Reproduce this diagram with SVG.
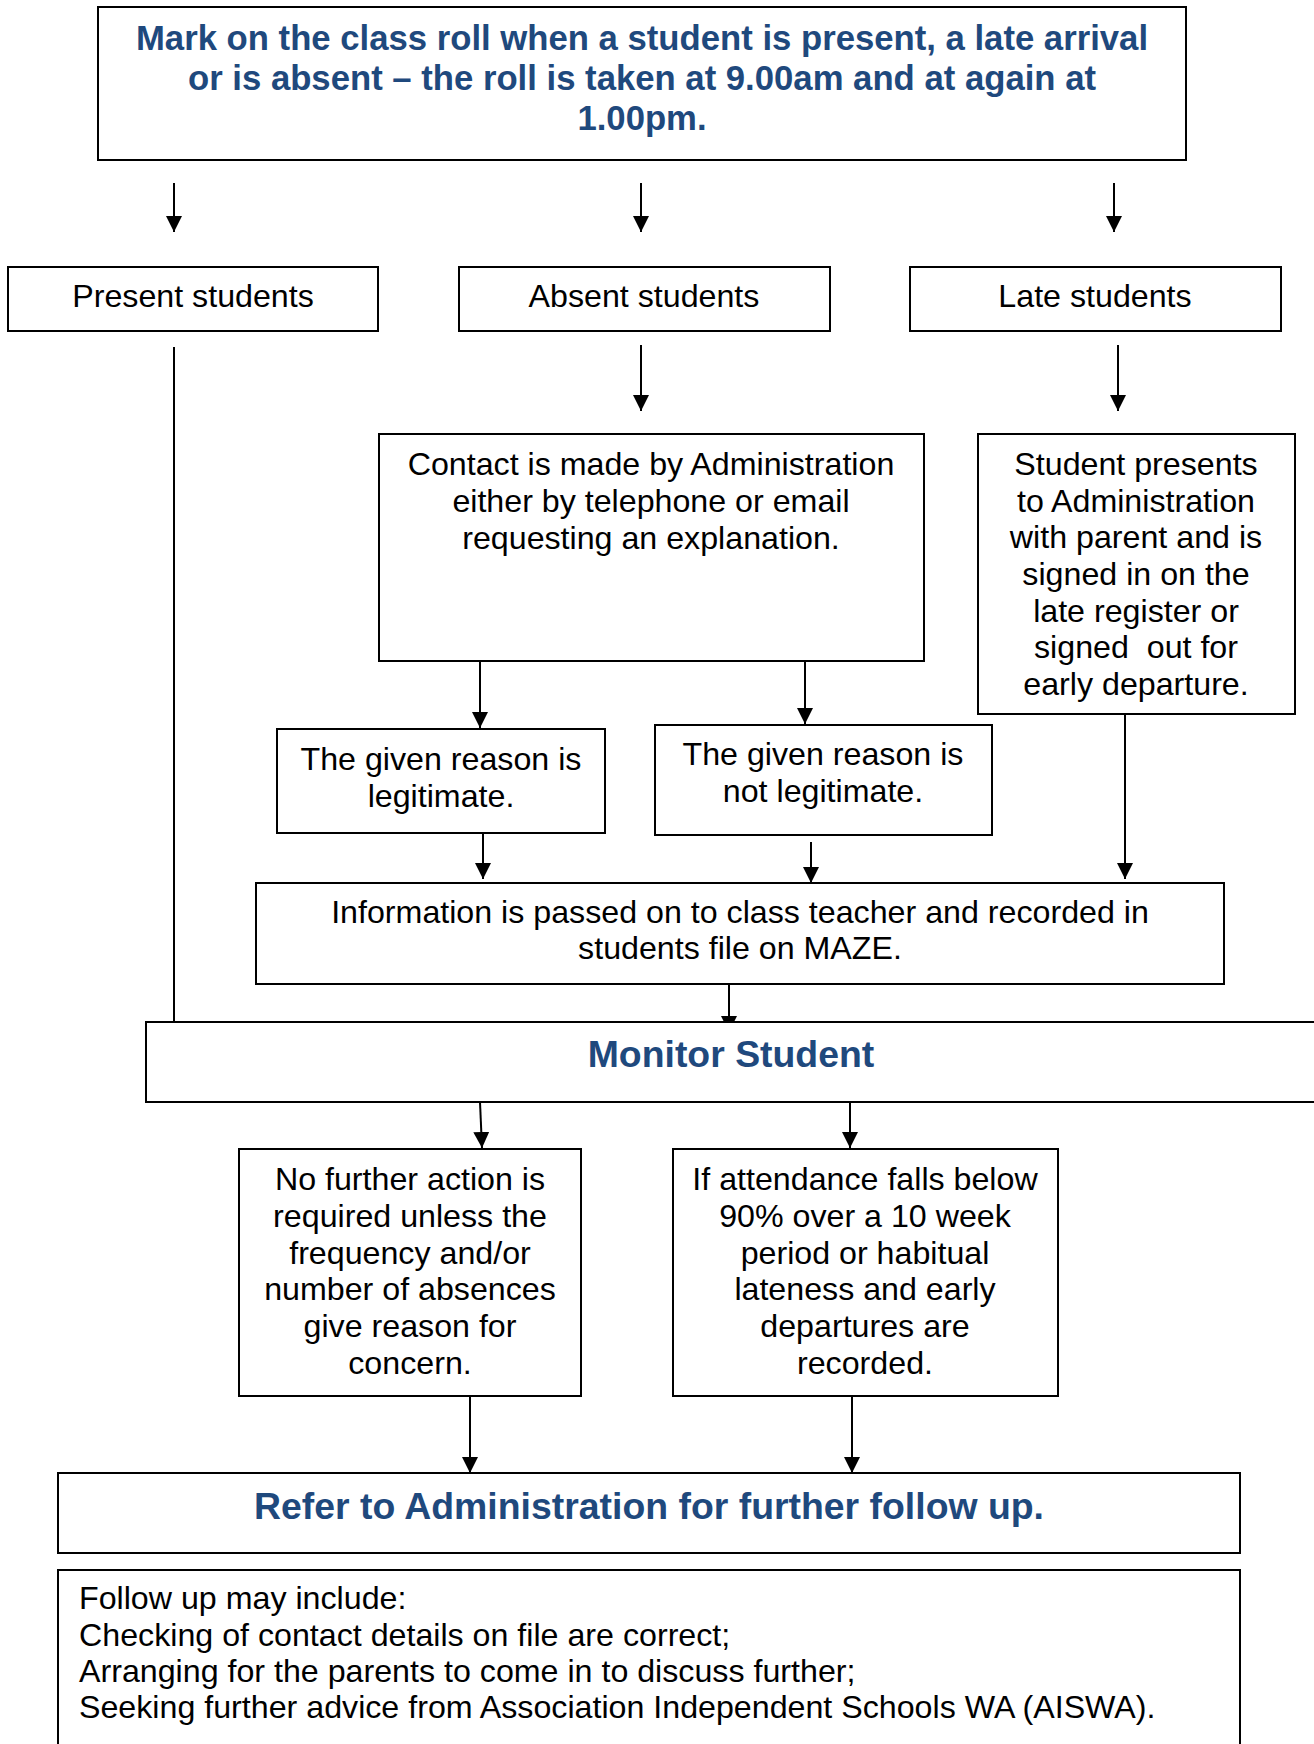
<svg xmlns="http://www.w3.org/2000/svg" width="1314" height="1744" viewBox="0 0 1314 1744">
<style>
.box{fill:#fff;stroke:#000;stroke-width:2}
.t{font-family:"Liberation Sans",Arial,sans-serif;font-size:32.2px;fill:#000;text-anchor:middle}
.tl{font-family:"Liberation Sans",Arial,sans-serif;font-size:32.2px;fill:#000}
.h{font-family:"Liberation Sans",Arial,sans-serif;font-weight:bold;fill:#1F497D;text-anchor:middle}
.c{stroke:#000;stroke-width:2;fill:none}
</style>
<defs>
<marker id="a" markerUnits="userSpaceOnUse" markerWidth="16" markerHeight="16" refX="16" refY="8" orient="auto" viewBox="0 0 16 16">
<path d="M0,0 L16,8 L0,16 Z" fill="#000"/>
</marker>
</defs>

<g id="connectors">
<line class="c" x1="174" y1="183" x2="174" y2="232" marker-end="url(#a)"/>
<line class="c" x1="641" y1="183" x2="641" y2="232" marker-end="url(#a)"/>
<line class="c" x1="1114" y1="183" x2="1114" y2="232" marker-end="url(#a)"/>
<line class="c" x1="174" y1="347" x2="174" y2="1022"/>
<line class="c" x1="641" y1="345" x2="641" y2="411" marker-end="url(#a)"/>
<line class="c" x1="1118" y1="345" x2="1118" y2="411" marker-end="url(#a)"/>
<line class="c" x1="480" y1="661" x2="480" y2="728" marker-end="url(#a)"/>
<line class="c" x1="805" y1="661" x2="805" y2="724" marker-end="url(#a)"/>
<line class="c" x1="1125" y1="714" x2="1125" y2="879" marker-end="url(#a)"/>
<line class="c" x1="483" y1="833" x2="483" y2="879" marker-end="url(#a)"/>
<line class="c" x1="811" y1="842" x2="811" y2="883" marker-end="url(#a)"/>
<line class="c" x1="729" y1="984" x2="729" y2="1032" marker-end="url(#a)"/>
<line class="c" x1="480" y1="1102" x2="482" y2="1148" marker-end="url(#a)"/>
<line class="c" x1="850" y1="1102" x2="850" y2="1148" marker-end="url(#a)"/>
<line class="c" x1="470" y1="1396" x2="470" y2="1473" marker-end="url(#a)"/>
<line class="c" x1="852" y1="1396" x2="852" y2="1473" marker-end="url(#a)"/>
</g>

<g id="n-title">
<rect class="box" x="98" y="7" width="1088" height="153"/>
<text class="h" font-size="34.7" x="642" y="50">Mark on the class roll when a student is present, a late arrival</text>
<text class="h" font-size="34.7" x="642" y="90">or is absent – the roll is taken at 9.00am and at again at</text>
<text class="h" font-size="34.7" x="642" y="130">1.00pm.</text>
</g>

<g id="n-present">
<rect class="box" x="8" y="267" width="370" height="64"/>
<text class="t" x="193" y="307">Present students</text>
</g>
<g id="n-absent">
<rect class="box" x="459" y="267" width="371" height="64"/>
<text class="t" x="644" y="307">Absent students</text>
</g>
<g id="n-late">
<rect class="box" x="910" y="267" width="371" height="64"/>
<text class="t" x="1095" y="307">Late students</text>
</g>

<g id="n-contact">
<rect class="box" x="379" y="434" width="545" height="227"/>
<text class="t" x="651" y="475">Contact is made by Administration</text>
<text class="t" x="651" y="512">either by telephone or email</text>
<text class="t" x="651" y="549">requesting an explanation.</text>
</g>

<g id="n-student-presents">
<rect class="box" x="978" y="434" width="317" height="280"/>
<text class="t" x="1136" y="475">Student presents</text>
<text class="t" x="1136" y="512">to Administration</text>
<text class="t" x="1136" y="548">with parent and is</text>
<text class="t" x="1136" y="585">signed in on the</text>
<text class="t" x="1136" y="622">late register or</text>
<text class="t" x="1136" y="658" xml:space="preserve">signed  out for</text>
<text class="t" x="1136" y="695">early departure.</text>
</g>

<g id="n-legit">
<rect class="box" x="277" y="729" width="328" height="104"/>
<text class="t" x="441" y="770">The given reason is</text>
<text class="t" x="441" y="807">legitimate.</text>
</g>

<g id="n-not-legit">
<rect class="box" x="655" y="725" width="337" height="110"/>
<text class="t" x="823" y="765">The given reason is</text>
<text class="t" x="823" y="802">not legitimate.</text>
</g>

<g id="n-info">
<rect class="box" x="256" y="883" width="968" height="101"/>
<text class="t" x="740" y="923">Information is passed on to class teacher and recorded in</text>
<text class="t" x="740" y="959">students file on MAZE.</text>
</g>

<g id="n-monitor">
<rect class="box" x="146" y="1022" width="1200" height="80"/>
<text class="h" font-size="37.4" x="731" y="1067">Monitor Student</text>
</g>

<g id="n-no-further">
<rect class="box" x="239" y="1149" width="342" height="247"/>
<text class="t" x="410" y="1190">No further action is</text>
<text class="t" x="410" y="1227">required unless the</text>
<text class="t" x="410" y="1264">frequency and/or</text>
<text class="t" x="410" y="1300">number of absences</text>
<text class="t" x="410" y="1337">give reason for</text>
<text class="t" x="410" y="1374">concern.</text>
</g>

<g id="n-attendance">
<rect class="box" x="673" y="1149" width="385" height="247"/>
<text class="t" x="865" y="1190">If attendance falls below</text>
<text class="t" x="865" y="1227">90% over a 10 week</text>
<text class="t" x="865" y="1264">period or habitual</text>
<text class="t" x="865" y="1300">lateness and early</text>
<text class="t" x="865" y="1337">departures are</text>
<text class="t" x="865" y="1374">recorded.</text>
</g>

<g id="n-refer">
<rect class="box" x="58" y="1473" width="1182" height="80"/>
<text class="h" font-size="37.4" x="649" y="1519">Refer to Administration for further follow up.</text>
</g>

<g id="n-followup">
<rect class="box" x="58" y="1570" width="1182" height="200"/>
<text class="tl" x="79" y="1609">Follow up may include:</text>
<text class="tl" x="79" y="1646">Checking of contact details on file are correct;</text>
<text class="tl" x="79" y="1682">Arranging for the parents to come in to discuss further;</text>
<text class="tl" x="79" y="1718">Seeking further advice from Association Independent Schools WA (AISWA).</text>
</g>
</svg>
